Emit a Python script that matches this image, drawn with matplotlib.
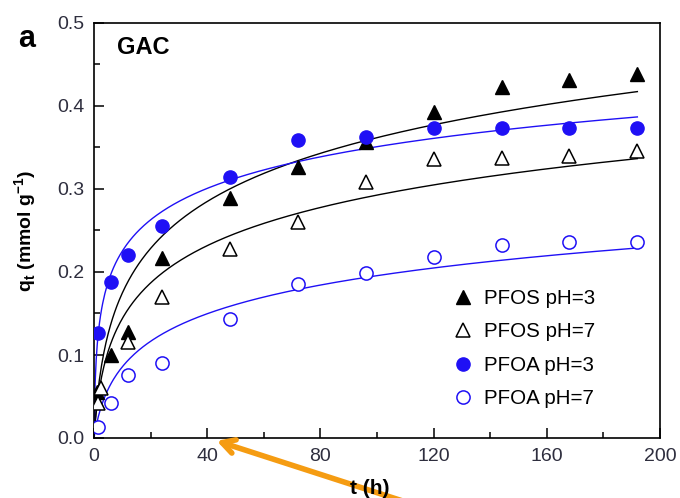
import matplotlib
matplotlib.use('Agg')
import matplotlib.pyplot as plt
import numpy as np

plt.rcParams['font.family'] = ['Liberation Sans', 'DejaVu Sans']
plt.rcParams['mathtext.fontset'] = 'custom'
plt.rcParams['mathtext.rm'] = 'Liberation Sans'
plt.rcParams['mathtext.bf'] = 'Liberation Sans:bold'

# contact time (h)
t_pfos3 = [1, 6, 12, 24, 48, 72, 96, 120, 144, 168, 192]
q_pfos3 = [0.055, 0.100, 0.128, 0.217, 0.289, 0.327, 0.357, 0.393, 0.423, 0.431, 0.439]
t_pfos7 = [1.5, 2.5, 12, 24, 48, 72, 96, 120, 144, 168, 192]
q_pfos7 = [0.042, 0.060, 0.116, 0.170, 0.228, 0.260, 0.309, 0.336, 0.337, 0.340, 0.346]
t_pfoa3 = [1.5, 6, 12, 24, 48, 72, 96, 120, 144, 168, 192]
q_pfoa3 = [0.127, 0.188, 0.221, 0.255, 0.314, 0.359, 0.363, 0.374, 0.374, 0.374, 0.374]
t_pfoa7 = [1.5, 6, 12, 24, 48, 72, 96, 120, 144, 168, 192]
q_pfoa7 = [0.013, 0.042, 0.076, 0.090, 0.143, 0.185, 0.199, 0.218, 0.232, 0.236, 0.236]

# fitted kinetic curves, q = a*ln(1 + c*t), parameters
fit_pfos3 = (0.086, 0.662)
fit_pfos7 = (0.068, 0.73)
fit_pfoa3 = (0.055, 5.9)
fit_pfoa7 = (0.052, 0.42)
t_end = 192

labels = ['PFOS pH=3', 'PFOS pH=7', 'PFOA pH=3', 'PFOA pH=7']

blue = '#1f10f5'
tick_col = '#2e2e3e'

fig = plt.figure(figsize=(6.8, 4.98), dpi=100)
ax = fig.add_axes([94 / 680, 1 - 438 / 498, 566 / 680, 415 / 498])

tt = np.linspace(0, t_end, 500)
for (a, c), col in [(fit_pfos3, 'black'), (fit_pfos7, 'black'),
                    (fit_pfoa3, blue), (fit_pfoa7, blue)]:
    ax.plot(tt, a * np.log(1 + c * tt), color=col, lw=1.0, zorder=2)

ax.plot(t_pfos3, q_pfos3, ls='none', marker='^', ms=10.5, color='black',
        label=labels[0], zorder=3)
ax.plot(t_pfos7, q_pfos7, ls='none', marker='^', ms=10.5, mfc='white',
        mec='black', mew=1.1, label=labels[1], zorder=3)
ax.plot(t_pfoa3, q_pfoa3, ls='none', marker='o', ms=9.5, color=blue,
        label=labels[2], zorder=3)
ax.plot(t_pfoa7, q_pfoa7, ls='none', marker='o', ms=9.5, mfc='white',
        mec=blue, mew=1.1, label=labels[3], zorder=3)

ax.set_xlim(0, 200)
ax.set_ylim(0, 0.5)
ax.set_xticks(np.arange(0, 201, 40))
ax.set_xticks(np.arange(20, 200, 40), minor=True)
ax.set_yticks(np.arange(0, 0.51, 0.1))
ax.set_yticks(np.arange(0.05, 0.5, 0.1), minor=True)
ax.set_yticklabels(['0.0', '0.1', '0.2', '0.3', '0.4', '0.5'])
ax.tick_params(which='both', direction='in', top=False, right=False,
               labelsize=14, labelcolor=tick_col, width=1.1)
ax.tick_params(which='major', length=7, pad=7)
ax.tick_params(which='minor', length=4)
for s in ax.spines.values():
    s.set_linewidth(1.2)

ax.set_ylabel(r'$\mathbf{q}_\mathbf{t}$ (mmol g$^\mathbf{-1}$)',
              fontsize=14, fontweight='bold')
ax.yaxis.set_label_coords(-0.098, 0.5)
fig.text(370 / 680, 1 - 479 / 498, 't (h)', fontsize=15, fontweight='bold',
         ha='center', va='top')

ax.text(0.04, 0.968, 'GAC', transform=ax.transAxes, fontsize=17,
        fontweight='bold', va='top')
fig.text(18 / 680, 1 - 24 / 498, 'a', fontsize=22, fontweight='bold', va='top')

ax.legend(loc='upper left', bbox_to_anchor=(0.621, 0.379), frameon=False,
          fontsize=14.8, handlelength=0.95, handletextpad=0.5, labelspacing=0.7,
          borderaxespad=0)

ax.annotate('', xy=(214, 498 - 440), xycoords='figure pixels',
            xytext=(412, -6), textcoords='figure pixels',
            arrowprops=dict(arrowstyle='->,head_length=0.9,head_width=0.5',
                            color='#f59c12', lw=4),
            annotation_clip=False)

fig.savefig('out.png', dpi=100)
